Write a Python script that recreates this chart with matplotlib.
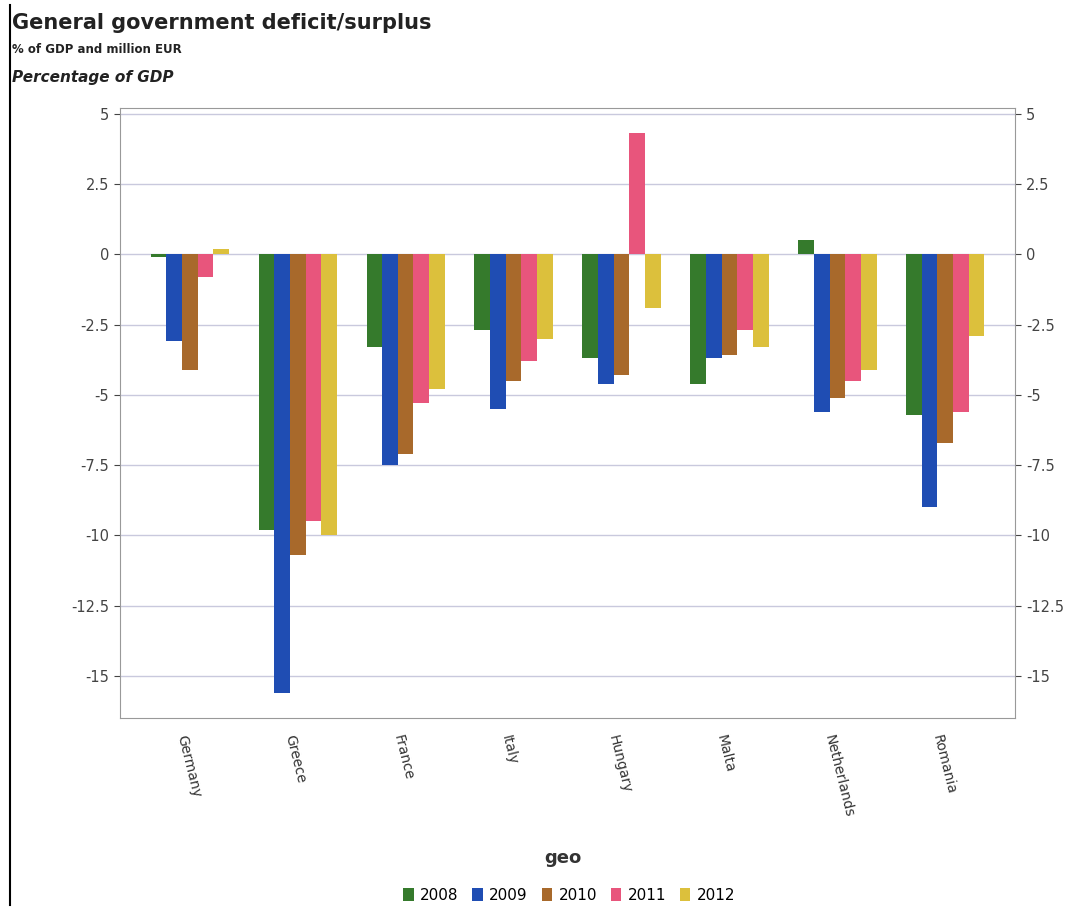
import numpy as np
import matplotlib.pyplot as plt
from matplotlib.lines import Line2D
from matplotlib.patches import Patch

# dane (% PKB)
kraje = ['Germany', 'Greece', 'France', 'Italy', 'Hungary', 'Malta', 'Netherlands', 'Romania']
lata = ['2008', '2009', '2010', '2011', '2012']
v2008 = [-0.1, -9.8, -3.3, -2.7, -3.7, -4.6, 0.5, -5.7]
v2009 = [-3.1, -15.6, -7.5, -5.5, -4.6, -3.7, -5.6, -9.0]
v2010 = [-4.1, -10.7, -7.1, -4.5, -4.3, -3.6, -5.1, -6.7]
v2011 = [-0.8, -9.5, -5.3, -3.8, 4.3, -2.7, -4.5, -5.6]
v2012 = [0.2, -10.0, -4.8, -3.0, -1.9, -3.3, -4.1, -2.9]
kolory = ['#357a2c', '#1f4db3', '#a8692b', '#e8557c', '#dcc03c']

serie = [v2008, v2009, v2010, v2011, v2012]
yticks = [5, 2.5, 0, -2.5, -5, -7.5, -10, -12.5, -15]

fig = plt.figure(figsize=(10.78, 9.08), dpi=100)
ax = fig.add_axes([0.111, 0.209, 0.831, 0.672])

x = np.arange(len(kraje))
szer = 0.145
for i, (s, c) in enumerate(zip(serie, kolory)):
    ax.bar(x + (i - 2) * szer, s, szer, color=c, label=lata[i], zorder=3)

ax.set_xlim(-0.65, 7.65)
ax.set_ylim(-16.5, 5.2)
ax.set_yticks(yticks)
ax.set_yticklabels([('%g' % t) for t in yticks])
ax.yaxis.grid(True, color='#c9c9dd', linewidth=1, zorder=0)
ax.tick_params(axis='y', labelsize=10.5, colors='#444444', length=4, right=True, labelright=True)
ax.set_xticks(x - 0.08)
ax.set_xticklabels(kraje, rotation=-76, ha='left', va='center', rotation_mode='anchor',
                   fontsize=10, color='#333333')
ax.tick_params(axis='x', length=0, pad=12)
for sp in ax.spines.values():
    sp.set_color('#999999')

fig.text(0.011, 0.975, 'General government deficit/surplus', fontsize=15, fontweight='bold',
         va='center', ha='left', color='#222222')
fig.text(0.011, 0.945, '% of GDP and million EUR', fontsize=8.5, fontweight='bold',
         va='center', ha='left', color='#222222')
fig.text(0.011, 0.915, 'Percentage of GDP', fontsize=11, fontweight='bold', style='italic',
         va='center', ha='left', color='#222222')

fig.text(0.522, 0.055, 'geo', fontsize=13, fontweight='bold', ha='center', va='center',
         color='#333333')

uchwyty = [Patch(facecolor=c) for c in kolory]
fig.legend(uchwyty, lata, loc='center', bbox_to_anchor=(0.528, 0.014), ncol=5, frameon=False,
           fontsize=11, handlelength=0.7, handleheight=0.9, handletextpad=0.4, columnspacing=0.9)

fig.add_artist(Line2D([0.009, 0.009], [0.003, 0.995], color='black', linewidth=1.5,
                      transform=fig.transFigure))

fig.savefig('out.png', dpi=100, facecolor='white')
